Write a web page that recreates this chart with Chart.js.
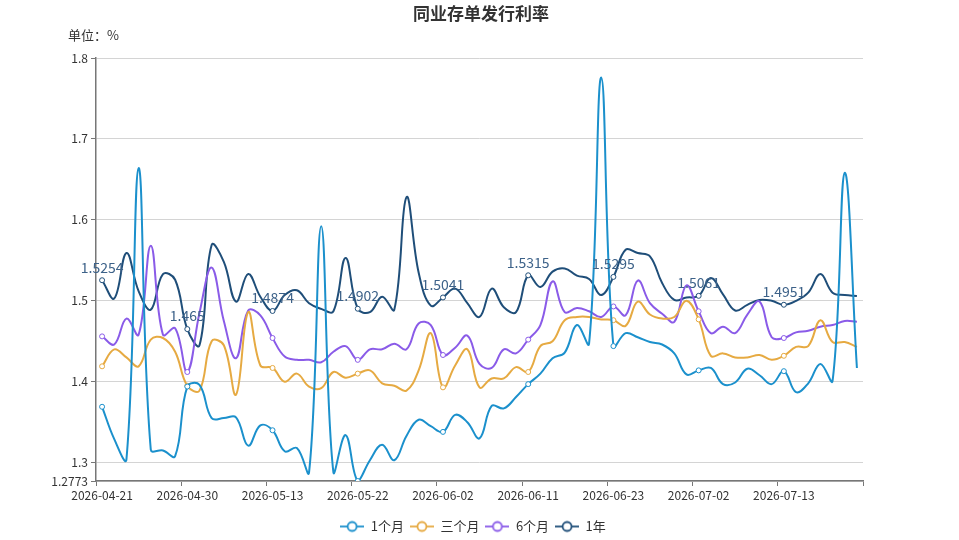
<!DOCTYPE html>
<html>
<head>
<meta charset="utf-8">
<script src="https://cdn.jsdelivr.net/npm/chart.js@4/dist/chart.umd.min.js"></script>
<style>
html,body{margin:0;padding:0;background:#fff;}
#wrap{position:relative;width:959px;height:540px;}
</style>
</head>
<body>
<div id="wrap"><canvas id="c" width="959" height="540"></canvas></div>
<script>
const dates = [
  "2026-04-21","2026-04-22","2026-04-23","2026-04-24","2026-04-27","2026-04-28","2026-04-29",
  "2026-04-30","2026-05-06","2026-05-07","2026-05-08","2026-05-09","2026-05-11","2026-05-12",
  "2026-05-13","2026-05-14","2026-05-15","2026-05-18","2026-05-19","2026-05-20","2026-05-21",
  "2026-05-22","2026-05-25","2026-05-26","2026-05-27","2026-05-28","2026-05-29","2026-06-01",
  "2026-06-02","2026-06-03","2026-06-04","2026-06-05","2026-06-08","2026-06-09","2026-06-10",
  "2026-06-11","2026-06-12","2026-06-15","2026-06-16","2026-06-17","2026-06-18","2026-06-22",
  "2026-06-23","2026-06-24","2026-06-25","2026-06-26","2026-06-29","2026-06-30","2026-07-01",
  "2026-07-02","2026-07-03","2026-07-06","2026-07-07","2026-07-08","2026-07-09","2026-07-10",
  "2026-07-13","2026-07-14","2026-07-15","2026-07-16","2026-07-17","2026-07-20","2026-07-21"
];

const seriesNames = ["1个月", "三个月", "6个月", "1年"];

const rate1M = [
  1.369, 1.329, 1.304, 1.664, 1.316, 1.315, 1.308,
  1.394, 1.396, 1.355, 1.355, 1.356, 1.321, 1.346,
  1.340, 1.314, 1.318, 1.288, 1.592, 1.288, 1.334,
  1.2773, 1.303, 1.322, 1.303, 1.333, 1.353, 1.345,
  1.338, 1.359, 1.350, 1.330, 1.370, 1.367, 1.381,
  1.397, 1.410, 1.429, 1.436, 1.470, 1.447, 1.776,
  1.444, 1.460, 1.455, 1.449, 1.446, 1.435, 1.409,
  1.414, 1.417, 1.397, 1.399, 1.416, 1.408, 1.397,
  1.413, 1.387, 1.398, 1.422, 1.401, 1.658, 1.417
];

const rate3M = [
  1.419, 1.440, 1.430, 1.419, 1.452, 1.454, 1.437,
  1.395, 1.389, 1.450, 1.445, 1.384, 1.486, 1.420,
  1.417, 1.400, 1.410, 1.394, 1.392, 1.412, 1.405,
  1.410, 1.414, 1.398, 1.395, 1.389, 1.414, 1.460,
  1.393, 1.420, 1.440, 1.393, 1.404, 1.404, 1.418,
  1.412, 1.444, 1.450, 1.476, 1.480, 1.480, 1.477,
  1.476, 1.469, 1.499, 1.483, 1.478, 1.480, 1.500,
  1.477, 1.432, 1.435, 1.430, 1.430, 1.433, 1.427,
  1.432, 1.443, 1.444, 1.476, 1.449, 1.449, 1.443
];

const rate6M = [
  1.456, 1.446, 1.478, 1.458, 1.568, 1.458, 1.466,
  1.412, 1.485, 1.541, 1.475, 1.429, 1.488, 1.482,
  1.454, 1.431, 1.427, 1.427, 1.424, 1.437, 1.444,
  1.427, 1.440, 1.440, 1.447, 1.440, 1.472, 1.470,
  1.433, 1.442, 1.457, 1.422, 1.417, 1.440, 1.435,
  1.452, 1.470, 1.524, 1.486, 1.491, 1.487, 1.480,
  1.493, 1.482, 1.525, 1.497, 1.484, 1.474, 1.519,
  1.487, 1.460, 1.468, 1.460, 1.483, 1.499, 1.455,
  1.454, 1.461, 1.463, 1.468, 1.470, 1.475, 1.474
];

const rate1Y = [
  1.5254, 1.503, 1.559, 1.512, 1.489, 1.533, 1.526,
  1.465, 1.445, 1.569, 1.548, 1.499, 1.533, 1.505,
  1.4874, 1.507, 1.513, 1.497, 1.490, 1.487, 1.553,
  1.4902, 1.486, 1.505, 1.489, 1.628, 1.535, 1.494,
  1.5041, 1.515, 1.497, 1.480, 1.515, 1.492, 1.486,
  1.5315, 1.517, 1.536, 1.540, 1.531, 1.527, 1.507,
  1.5295, 1.563, 1.559, 1.555, 1.522, 1.501, 1.504,
  1.5061, 1.528, 1.508, 1.488, 1.495, 1.501, 1.500,
  1.4951, 1.500, 1.510, 1.533, 1.510, 1.507, 1.506
];

const yTickValues = [1.2773, 1.3, 1.4, 1.5, 1.6, 1.7, 1.8];
const labelStep = 7;

const colors = ["#1b90cc", "#e6aa42", "#8a5be8", "#1f4e79"];
const FONT = '"Noto Sans CJK SC", "Noto Sans", sans-serif';

function makeIcon(color) {
  const c = document.createElement('canvas');
  c.width = 24; c.height = 14;
  const g = c.getContext('2d');
  g.strokeStyle = color; g.lineWidth = 1.8;
  g.beginPath(); g.moveTo(0, 7); g.lineTo(24, 7); g.stroke();
  g.beginPath(); g.arc(12, 7, 4.5, 0, Math.PI * 2);
  g.fillStyle = '#fff'; g.fill(); g.stroke();
  return c;
}
const icons = colors.map(makeIcon);

const allSeries = [rate1M, rate3M, rate6M, rate1Y];

const datasets = allSeries.map((arr, i) => ({
  label: seriesNames[i],
  data: arr,
  yAxisID: 'y',
  borderColor: colors[i],
  backgroundColor: colors[i],
  borderWidth: 2,
  tension: 0.4,
  fill: false,
  pointRadius: ctx => (ctx.dataIndex % labelStep === 0 ? 2.5 : 0),
  pointHoverRadius: ctx => (ctx.dataIndex % labelStep === 0 ? 3 : 0),
  pointBackgroundColor: '#fff',
  pointBorderColor: colors[i],
  pointBorderWidth: 1
}));

const textPlugin = {
  id: 'texts',
  afterDatasetsDraw(chart) {
    const ctx = chart.ctx;
    const meta = chart.getDatasetMeta(3);
    ctx.save();
    ctx.font = '14px ' + FONT;
    ctx.fillStyle = '#3d6289';
    ctx.textAlign = 'center';
    ctx.textBaseline = 'bottom';
    meta.data.forEach((pt, idx) => {
      if (idx % labelStep !== 0) return;
      ctx.fillText(String(rate1Y[idx]), pt.x, pt.y - 6);
    });
    ctx.restore();
  },
  afterDraw(chart) {
    const ctx = chart.ctx;
    ctx.save();
    ctx.fillStyle = '#333';
    ctx.textAlign = 'center';
    ctx.textBaseline = 'middle';
    ctx.font = 'bold 17px ' + FONT;
    ctx.fillText('同业存单发行利率', 481, 14);
    ctx.textAlign = 'left';
    ctx.font = '13px ' + FONT;
    ctx.fillText('单位：%', 68, 35);
    ctx.restore();
  }
};

new Chart(document.getElementById('c'), {
  type: 'line',
  data: { labels: dates, datasets },
  plugins: [textPlugin],
  options: {
    responsive: false,
    animation: false,
    layout: { padding: { top: 58, right: 13, left: 0, bottom: -3 } },
    plugins: {
      title: { display: false },
      tooltip: { enabled: false },
      legend: {
        display: true,
        position: 'bottom',
        labels: {
          usePointStyle: true,
          pointStyleWidth: 24,
          boxHeight: 12,
          color: '#333',
          font: { size: 13, family: FONT },
          padding: 6,
          generateLabels(chart) {
            const items = Chart.defaults.plugins.legend.labels.generateLabels(chart);
            items.forEach((it, i) => { it.pointStyle = icons[i]; });
            return items;
          }
        }
      }
    },
    scales: {
      x: {
        type: 'category',
        offset: true,
        grid: {
          offset: true,
          drawOnChartArea: false,
          drawTicks: true,
          tickLength: 5,
          tickColor: ctx => (ctx.index === undefined || ctx.index % labelStep === 0) ? '#777' : 'rgba(0,0,0,0)'
        },
        border: { display: true, color: '#777', width: 1.5 },
        ticks: {
          autoSkip: false,
          maxRotation: 0,
          minRotation: 0,
          padding: 2,
          color: '#333',
          font: { size: 12, family: FONT },
          callback(value, index) { return index % labelStep === 0 ? dates[index] : ''; }
        },
        afterFit(scale) { scale.height = 33; }
      },
      y: {
        type: 'linear',
        position: 'left',
        min: 1.2773,
        max: 1.8,
        afterBuildTicks(scale) { scale.ticks = yTickValues.map(v => ({ value: v })); },
        grid: { color: '#d4d4d4', tickColor: '#777', tickLength: 5, drawTicks: true },
        border: { display: true, color: '#777', width: 1.5 },
        ticks: {
          autoSkip: false,
          padding: 3,
          color: '#333',
          font: { size: 12, family: FONT },
          callback(v) { return String(Number(Number(v).toFixed(4))); }
        },
        afterFit(scale) { scale.width = 96; }
      },
      spacer: {
        type: 'linear',
        position: 'right',
        display: true,
        grid: { display: false, drawTicks: false },
        border: { display: false },
        ticks: { display: false },
        afterFit(scale) { scale.width = 83; }
      }
    }
  }
});
</script>
</body>
</html>
